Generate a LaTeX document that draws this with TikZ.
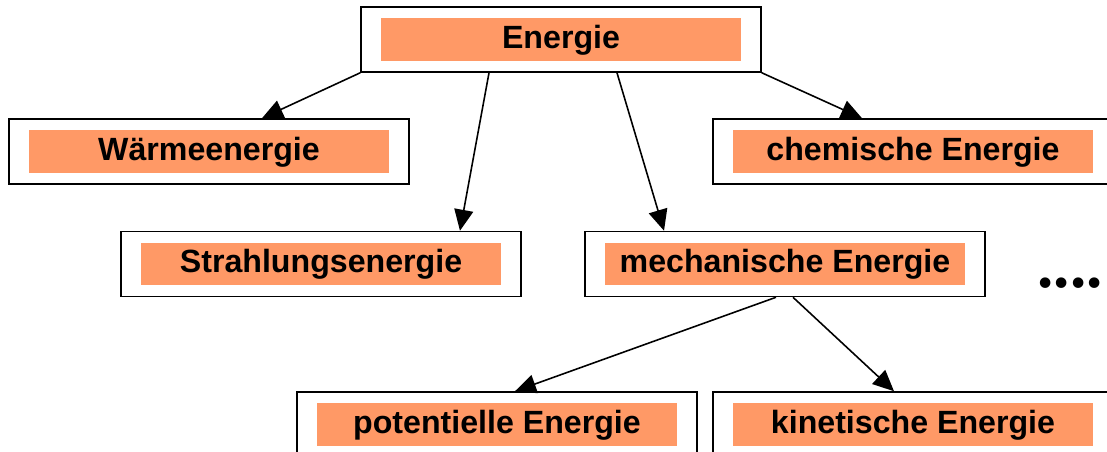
\documentclass[tikz,border=0pt]{standalone}
\usepackage{fontspec}
\setmainfont{Liberation Sans}
\newfontfamily\dotfont{Liberation Serif}
\usetikzlibrary{arrows.meta}

\definecolor{eorange}{RGB}{255,153,102}

\begin{document}
\begin{tikzpicture}[x=0.02cm, y=-0.02cm,
    ebox/.style={draw, line width=0.9pt, fill=white, inner sep=0pt,
        minimum width=8cm, minimum height=1.3cm,
        text height=0.46cm, text depth=0.11cm,
        font=\fontsize{18.3}{22}\selectfont\bfseries,
        path picture={\fill[eorange]
            ([shift={(0.4cm,0.22cm)}]path picture bounding box.south west) rectangle
            ([shift={(-0.4cm,-0.22cm)}]path picture bounding box.north east);}},
    earrow/.style={line width=0.9pt, -{Triangle[length=0.42cm,width=0.38cm]}}]

    % Fix the frame of the picture (boxes on the right and bottom are cut off)
    \useasboundingbox (0,0) rectangle (1107,452);
    \clip (0,0) rectangle (1107,452);

    % Top level
    \node[ebox] (E) at (561,39.5) {Energie};

    % Second and third rows
    \node[ebox] (W) at (209,151.5) {Wärmeenergie};
    \node[ebox] (C) at (913,151.5) {chemische Energie};
    \node[ebox] (S) at (321,264) {Strahlungsenergie};
    \node[ebox] (M) at (785,264) {mechanische Energie};

    % Bottom row under mechanische Energie
    \node[ebox] (P) at (497,424.5) {potentielle Energie};
    \node[ebox] (K) at (913,424.5) {kinetische Energie};

    % More forms of energy
    \node[font=\dotfont\fontsize{37}{40}\selectfont\bfseries] (more) at (1070,283) {....};

    % Draw the arrows from Energie
    \draw[earrow] (E.south west) -- ([xshift=1.06cm]W.north);
    \draw[earrow] ([xshift=-1.44cm]E.south) -- ([xshift=2.78cm]S.north);
    \draw[earrow] ([xshift=1.12cm]E.south) -- ([xshift=-2.42cm]M.north);
    \draw[earrow] (E.south east) -- ([xshift=-1.02cm]C.north);

    % Draw the arrows from mechanische Energie
    \draw[earrow] ([xshift=-0.18cm]M.south) -- ([xshift=0.36cm]P.north);
    \draw[earrow] ([xshift=0.16cm]M.south) -- ([xshift=-0.38cm]K.north);

\end{tikzpicture}
\end{document}
